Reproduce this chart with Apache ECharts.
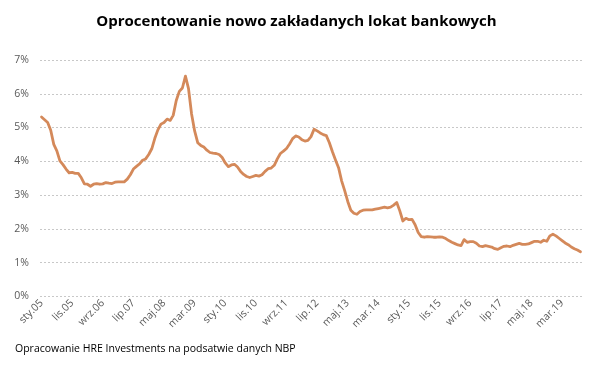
<!DOCTYPE html>
<html><head><meta charset="utf-8">
<script src="https://cdn.jsdelivr.net/npm/echarts@6/dist/echarts.min.js"></script>
<style>html,body{margin:0;padding:0;background:#fff}#c{width:593px;height:365px}</style>
</head><body><div id="c"></div>
<script>
const monthNames = ['sty','lut','mar','kwi','maj','cze','lip','sie','wrz','paź','lis','gru'];
const startYear = 2005;
const rates = [
5.31,5.23,5.15,4.92,4.50,4.31,4.01,3.90,3.77,3.66,3.67,3.64,
3.64,3.51,3.33,3.32,3.26,3.32,3.34,3.32,3.33,3.37,3.35,3.34,
3.38,3.39,3.39,3.39,3.47,3.60,3.77,3.85,3.92,4.03,4.07,4.20,
4.37,4.68,4.93,5.10,5.15,5.25,5.21,5.36,5.80,6.07,6.17,6.52,
6.15,5.40,4.90,4.55,4.47,4.42,4.33,4.26,4.24,4.23,4.20,4.11,
3.95,3.84,3.89,3.91,3.83,3.70,3.61,3.55,3.52,3.55,3.58,3.56,
3.60,3.70,3.78,3.80,3.88,4.07,4.23,4.30,4.38,4.51,4.67,4.75,
4.72,4.64,4.60,4.62,4.73,4.95,4.90,4.84,4.79,4.76,4.55,4.28,
4.04,3.81,3.42,3.13,2.81,2.55,2.46,2.43,2.51,2.55,2.56,2.56,
2.56,2.58,2.60,2.62,2.64,2.62,2.64,2.70,2.78,2.53,2.23,2.31,
2.27,2.28,2.12,1.89,1.77,1.75,1.77,1.76,1.75,1.75,1.76,1.75,
1.71,1.65,1.60,1.56,1.52,1.50,1.68,1.60,1.62,1.62,1.57,1.49,
1.47,1.50,1.48,1.46,1.41,1.39,1.44,1.48,1.49,1.47,1.51,1.54,
1.57,1.54,1.54,1.55,1.59,1.63,1.63,1.60,1.66,1.63,1.79,1.84,
1.79,1.72,1.65,1.58,1.53,1.46,1.41,1.37,1.32
];
const categories = rates.map((_, i) => monthNames[i % 12] + '.' + String((startYear + Math.floor(i / 12)) % 100).padStart(2, '0'));
const titleText = 'Oprocentowanie nowo zakładanych lokat bankowych';
const sourceText = 'Opracowanie HRE Investments na podsatwie danych NBP';

const chart = echarts.init(document.getElementById('c'), null, {renderer: 'canvas'});
chart.setOption({
  animation: false,
  backgroundColor: '#fff',
  title: {
    text: titleText, left: 'center', top: 9,
    textStyle: {fontFamily: 'Open Sans', fontWeight: 'bold', fontSize: 15, color: '#000'}
  },
  graphic: [{
    type: 'text', left: 15, top: 344,
    style: {text: sourceText, fontFamily: 'Open Sans', fontSize: 10.5, fill: '#000'}
  }],
  grid: {left: 40, right: 11, top: 60, bottom: 68.7},
  xAxis: {
    type: 'category', data: categories, boundaryGap: true,
    axisLine: {show: false}, axisTick: {show: false},
    axisLabel: {interval: 9, rotate: 45, margin: 5, color: '#595959', fontFamily: 'Open Sans', fontSize: 10.5}
  },
  yAxis: {
    type: 'value', min: 0, max: 7, interval: 1,
    axisLabel: {formatter: '{value}%', color: '#595959', fontFamily: 'Open Sans', fontSize: 10.5, margin: 11},
    splitLine: {lineStyle: {color: '#c8c8c8', type: [2, 2], width: 1}}
  },
  series: [{
    type: 'line', data: rates, showSymbol: false, smooth: false,
    lineStyle: {color: '#d4895a', width: 2.8, cap: 'round', join: 'round'}
  }]
});
</script></body></html>
